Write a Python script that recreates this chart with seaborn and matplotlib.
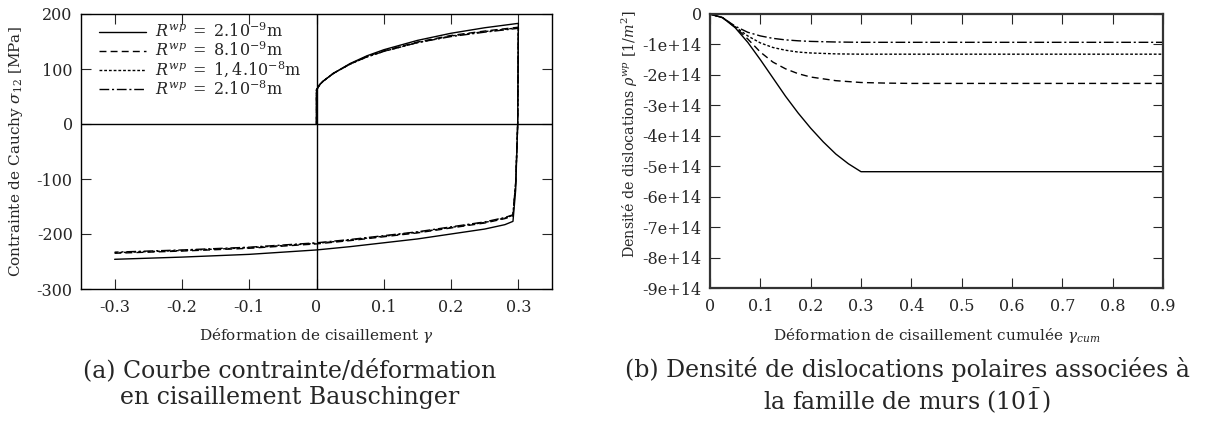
import numpy as np
import pandas as pd
import seaborn as sns
import matplotlib.pyplot as plt
from matplotlib.ticker import FuncFormatter

sns.set_style("ticks")
plt.rcParams.update({
    'font.family': ['DejaVu Serif'],
    'mathtext.fontset': 'dejavuserif',
    'axes.unicode_minus': False,
    'font.size': 11.5,
    'xtick.direction': 'in',
    'ytick.direction': 'in',
    'xtick.top': True,
    'ytick.right': True,
    'xtick.major.size': 7,
    'ytick.major.size': 7,
    'xtick.major.pad': 7,
    'ytick.major.pad': 6,
    'axes.linewidth': 1.0,
    'axes.edgecolor': 'black',
})

# --- (a) stress / strain Bauschinger loop ---
labels = [r'$R^{wp}\;=\;2.10^{-9}$m', r'$R^{wp}\;=\;8.10^{-9}$m',
          r'$R^{wp}\;=\;1,4.10^{-8}$m', r'$R^{wp}\;=\;2.10^{-8}$m']
styles = ['-', (0, (5, 3)), (0, (2, 1.4)), (0, (7, 2, 1.5, 2))]

# path: loading 0 -> 0.3, unloading at 0.3, reverse loading 0.29 -> -0.3
gamma_a = [0.0, 0.0, 0.005, 0.01, 0.025, 0.05, 0.075, 0.1, 0.15, 0.2, 0.25, 0.3,
           0.299, 0.296, 0.292, 0.28, 0.25, 0.2, 0.15, 0.1, 0.05, 0.0, -0.1, -0.2, -0.3]
sigma_r2e9 = [0, 62, 72, 78, 92, 110, 124, 135, 152, 165, 175, 183,
              0, -120, -177, -183, -191, -200, -209, -216, -223, -229, -237, -242, -246]
sigma_r8e9 = [0, 62, 72, 78, 92, 109, 123, 133, 149, 161, 169, 176,
              0, -110, -167, -172, -180, -189, -198, -205, -212, -218, -226, -231, -235]
sigma_r14e8 = [0, 62, 72, 78, 92, 109, 122, 132, 148, 160, 168, 175,
               0, -108, -166, -171, -179, -188, -197, -204, -211, -217, -225, -230, -234]
sigma_r2e8 = [0, 62, 72, 78, 92, 109, 122, 132, 148, 159, 167, 174,
              0, -106, -165, -170, -178, -187, -196, -203, -210, -216, -224, -229, -233]

# --- (b) polar dislocation density (units of 1e14) ---
gcum_sol = [0.0, 0.025, 0.05, 0.075, 0.1, 0.125, 0.15, 0.175, 0.2, 0.225, 0.25, 0.275, 0.3, 0.9]
rho_sol = [0, -0.12, -0.45, -0.93, -1.5, -2.1, -2.7, -3.25, -3.75, -4.2, -4.6, -4.92, -5.18, -5.18]
gcum_oth = [0.0, 0.025, 0.05, 0.075, 0.1, 0.125, 0.15, 0.175, 0.2, 0.25, 0.3, 0.35, 0.4, 0.9]
rho_r8e9 = [0, -0.12, -0.43, -0.82, -1.25, -1.58, -1.8, -1.96, -2.07, -2.19, -2.25, -2.27, -2.28, -2.28]
rho_r14e8 = [0, -0.12, -0.42, -0.72, -0.95, -1.1, -1.19, -1.25, -1.28, -1.31, -1.32, -1.32, -1.32, -1.32]
rho_r2e8 = [0, -0.12, -0.40, -0.6, -0.72, -0.8, -0.85, -0.88, -0.9, -0.92, -0.93, -0.93, -0.93, -0.93]

fig = plt.figure(figsize=(12.27, 4.26), dpi=100)
ax1 = fig.add_axes([81 / 1227, 137 / 426, 471 / 1227, 275 / 426])
ax2 = fig.add_axes([710 / 1227, 138 / 426, 453 / 1227, 274 / 426])

ax1.axhline(0, color='black', lw=1)
ax1.axvline(0, color='black', lw=1)
for sig, lab, ls in zip([sigma_r2e9, sigma_r8e9, sigma_r14e8, sigma_r2e8], labels, styles):
    sns.lineplot(x=gamma_a, y=sig, sort=False, estimator=None, ax=ax1,
                 color='black', lw=1.0, linestyle=ls, label=lab)
ax1.set_xlim(-0.35, 0.35)
ax1.set_ylim(-300, 200)
ax1.set_xticks(np.arange(-0.3, 0.31, 0.1))
ax1.set_xticklabels(['-0.3', '-0.2', '-0.1', '0', '0.1', '0.2', '0.3'])
ax1.set_yticks(range(-300, 201, 100))
ax1.set_xlabel(r'Déformation de cisaillement $\gamma$', va='top', fontsize=11)
ax1.xaxis.set_label_coords(0.5, -0.135)
ax1.set_ylabel(r'Contrainte de Cauchy $\sigma_{12}$ [MPa]', fontsize=11)
ax1.yaxis.set_label_coords(-0.119, 0.5)
ax1.legend(loc='upper left', frameon=False, fontsize=11.5, handlelength=2.9,
           handletextpad=0.6, labelspacing=0.0, bbox_to_anchor=(0.02, 1.0),
           borderaxespad=0.15)

rho_curves = [(gcum_sol, rho_sol), (gcum_oth, rho_r8e9), (gcum_oth, rho_r14e8), (gcum_oth, rho_r2e8)]
for (gx, rv), ls in zip(rho_curves, styles):
    sns.lineplot(x=gx, y=np.array(rv) * 1e14, sort=False, estimator=None, ax=ax2,
                 color='black', lw=1.0, linestyle=ls, legend=False)
ax2.set_xlim(0, 0.9)
ax2.set_ylim(-9e14, 0)
ax2.set_xticks(np.arange(0, 0.91, 0.1))
ax2.set_xticklabels(['0', '0.1', '0.2', '0.3', '0.4', '0.5', '0.6', '0.7', '0.8', '0.9'])
ax2.set_yticks(np.arange(-9, 1) * 1e14)
ax2.yaxis.set_major_formatter(FuncFormatter(
    lambda v, p: '0' if abs(v) < 1 else f'{v / 1e14:.0f}e+14'))
ax2.set_xlabel(r'Déformation de cisaillement cumulée $\gamma_{cum}$', va='top', fontsize=11)
ax2.xaxis.set_label_coords(0.5, -0.14)
ax2.set_ylabel(r'Densité de dislocations $\rho^{wp}$ [$1/m^2$]', fontsize=10.3)
ax2.yaxis.set_label_coords(-0.155, 0.56)
for s in ax2.spines.values():
    s.set_linewidth(1.6)
    s.set_color('#333333')

fig.text(290 / 1227, 1 - 358 / 426,
         '(a) Courbe contrainte/déformation\nen cisaillement Bauschinger',
         ha='center', va='top', ma='center', fontsize=17, linespacing=1.25)
fig.text(907 / 1227, 1 - 357 / 426,
         '(b) Densité de dislocations polaires associées à\n' + r'la famille de murs $(10\bar{1})$',
         ha='center', va='top', ma='center', fontsize=17, linespacing=1.12)

fig.savefig('out.png', dpi=100)
